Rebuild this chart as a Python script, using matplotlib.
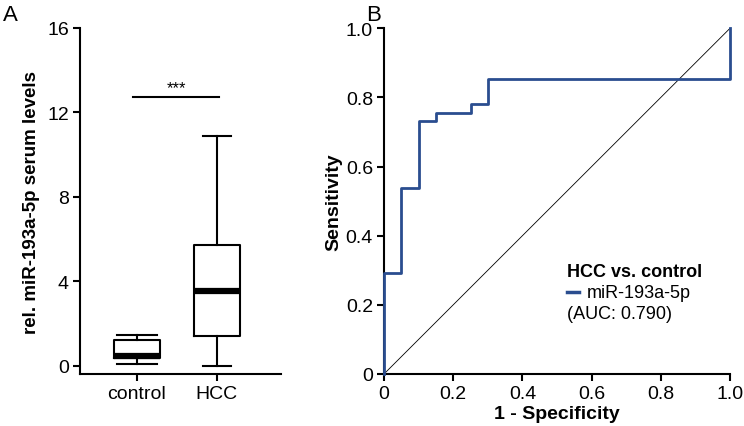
import matplotlib

matplotlib.use("Agg")
import matplotlib.pyplot as plt

plt.rcParams["font.family"] = ["Liberation Sans", "DejaVu Sans"]

# panel A: box summary stats
groups = ["control", "HCC"]
whisker_low = [0.10, 0.0]
q1 = [0.36, 1.41]
median = [0.46, 3.57]
q3 = [1.25, 5.75]
whisker_high = [1.47, 10.9]
sig_level = 12.73
sig_text = "***"

# panel B: ROC step curve
fpr = [0.0, 0.0, 0.05, 0.05, 0.10, 0.10, 0.15, 0.15, 0.25, 0.25, 0.30, 0.30, 1.0, 1.0]
tpr = [0.0, 0.293, 0.293, 0.537, 0.537, 0.732, 0.732, 0.756, 0.756, 0.780, 0.780, 0.854, 0.854, 1.0]
roc_color = "#2a4d8f"

W, H = 744, 427
fig = plt.figure(figsize=(W / 100, H / 100), dpi=100)

def frac(x0, y0, x1, y1):
    return [x0 / W, 1 - y1 / H, (x1 - x0) / W, (y1 - y0) / H]

lw = 1.5
fs = 14

# ---- panel A ----
ax = fig.add_axes(frac(80, 29, 281, 375))
stats = [
    dict(label=g, whislo=lo, q1=a, med=m, q3=b, whishi=hi, fliers=[])
    for g, lo, a, m, b, hi in zip(groups, whisker_low, q1, median, q3, whisker_high)
]
ax.bxp(
    stats,
    positions=range(len(groups)),
    widths=0.58,
    showfliers=False,
    boxprops=dict(color="black", linewidth=lw),
    whiskerprops=dict(color="black", linewidth=lw),
    capprops=dict(color="black", linewidth=lw),
    medianprops=dict(color="black", linewidth=4.5, solid_capstyle="butt"),
    capwidths=[0.5, 0.34],
)
ax.set_xlim(-0.71, 1.80)
ax.set_ylim(-0.38, 16)
ax.set_yticks([0, 4, 8, 12, 16])
ax.set_xticks(range(len(groups)))
ax.set_xticklabels(groups)
ax.spines[["top", "right"]].set_visible(False)
for s in ax.spines.values():
    s.set_linewidth(lw)
ax.tick_params(width=lw, length=5, labelsize=fs, pad=3)
ax.set_ylabel("rel. miR-193a-5p serum levels", fontsize=13.5, fontweight="bold", labelpad=5)
ax.plot([-0.05, 1.03], [sig_level, sig_level], color="black", linewidth=lw)
ax.text(0.49, sig_level + 0.1, sig_text, ha="center", va="bottom", fontsize=12)
fig.text(3 / W, 1 - 21 / H, "A", fontsize=16)

# ---- panel B ----
bx = fig.add_axes(frac(384, 29.3, 730, 375))
bx.plot([0, 1], [0, 1], color="black", linewidth=0.6)
bx.plot(fpr, tpr, color=roc_color, linewidth=2, clip_on=False, zorder=3)
bx.set_xlim(0, 1)
bx.set_ylim(0, 1)
bx.set_xticks([0, 0.2, 0.4, 0.6, 0.8, 1.0])
bx.set_xticklabels(["0", "0.2", "0.4", "0.6", "0.8", "1.0"])
bx.set_yticks([0, 0.2, 0.4, 0.6, 0.8, 1.0])
bx.set_yticklabels(["0", "0.2", "0.4", "0.6", "0.8", "1.0"])
bx.spines[["top", "right"]].set_visible(False)
for s in bx.spines.values():
    s.set_linewidth(lw)
bx.tick_params(width=lw, length=5, labelsize=fs, pad=3)
bx.set_xlabel("1 - Specificity", fontsize=14, fontweight="bold", labelpad=2)
bx.set_ylabel("Sensitivity", fontsize=14, fontweight="bold", labelpad=2)

bx.text(0.53, 0.296, "HCC vs. control", transform=bx.transAxes, fontsize=13,
        fontweight="bold", va="center")
bx.plot([0.53, 0.565], [0.236, 0.236], transform=bx.transAxes, color=roc_color, linewidth=2.5)
bx.text(0.585, 0.236, "miR-193a-5p", transform=bx.transAxes, fontsize=13, va="center")
bx.text(0.53, 0.176, "(AUC: 0.790)", transform=bx.transAxes, fontsize=13, va="center")
fig.text(366 / W, 1 - 21 / H, "B", fontsize=16)

fig.savefig("out.png", dpi=100)
